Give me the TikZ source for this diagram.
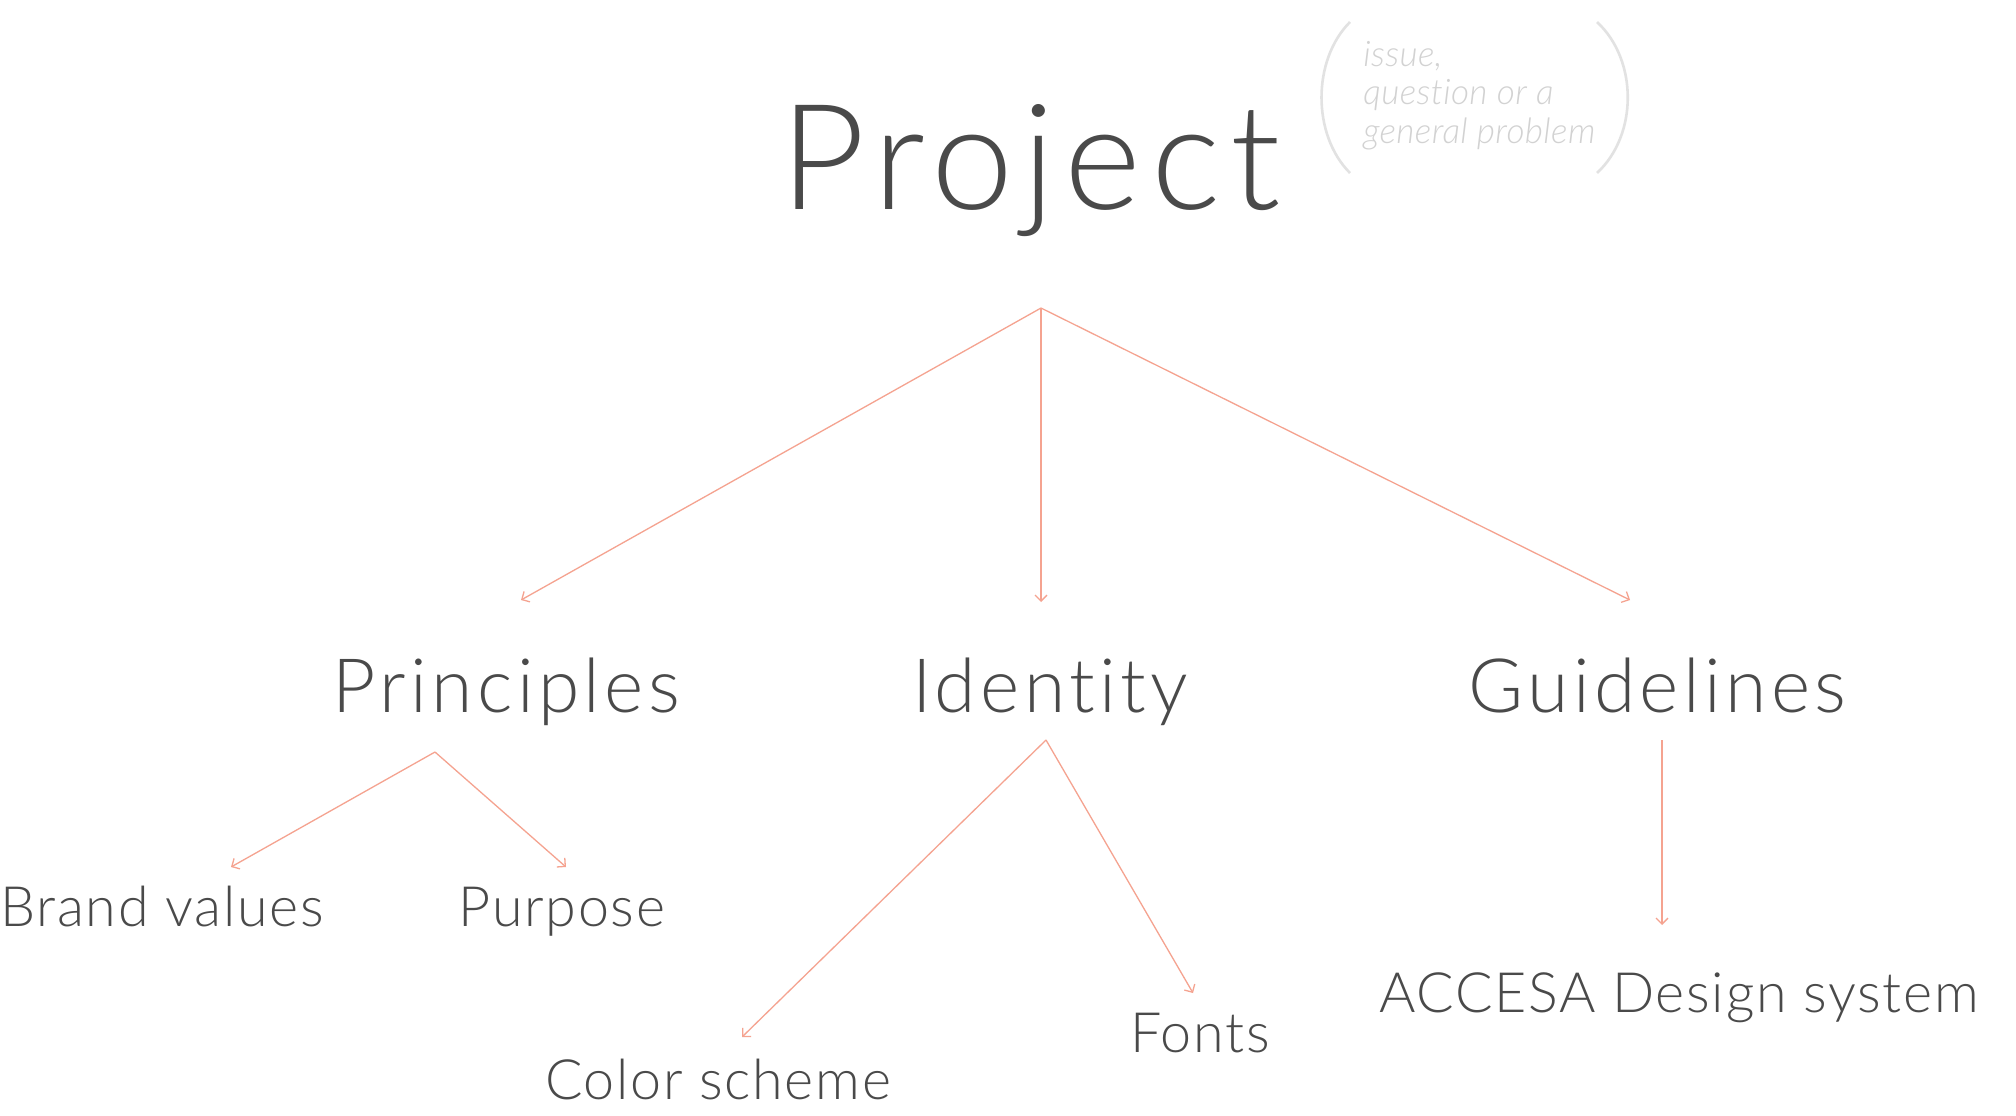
\documentclass[tikz,border=0pt]{standalone}
\usepackage{fontspec}
\setmainfont{Lato}[UprightFont=* Light, ItalicFont=* Light Italic, Ligatures=CommonOff]
\usetikzlibrary{arrows.meta}
\definecolor{txt}{HTML}{4A4A4A}
\definecolor{arr}{HTML}{F5A390}
\definecolor{notec}{HTML}{D2D2D2}
\definecolor{parenc}{HTML}{E2E2E2}
\begin{document}
\begin{tikzpicture}[x=0.5pt,y=-0.5pt,
  lbl/.style={text=txt, inner sep=0pt, anchor=base},
  bigtxt/.style={lbl, font=\fontsize{73.6}{80}\selectfont\addfontfeature{LetterSpace=6.4}},
  midtxt/.style={lbl, font=\fontsize{37.5}{42}\selectfont\addfontfeature{LetterSpace=5.8}},
  smalltxt/.style={lbl, font=\fontsize{27.8}{32}\selectfont\addfontfeature{LetterSpace=3}},
  notetxt/.style={text=notec, inner sep=0pt, anchor=base west, font=\fontsize{17.6}{21}\selectfont\itshape\addfontfeature{LetterSpace=1}},
  link/.style={draw=arr, line width=0.65pt, -{Straight Barb[length=3pt,width=6pt]}},
  parenline/.style={draw=parenc, line width=1.3pt}
]
\fill[white] (0,0) rectangle (2016,1115);
\useasboundingbox (0,0) rectangle (2016,1115);

% titles
\node[bigtxt] (project) at (1030.5,209) {Project};
\node[midtxt] (principles) at (506.5,712) {Principles};
\node[midtxt] (identity) at (1050,712) {Identity};
\node[midtxt] (guidelines) at (1657.5,712) {Guidelines};
\node[smalltxt] (brand) at (162,926) {Brand values};
\node[smalltxt] (purpose) at (562,926) {Purpose};
\node[smalltxt] (color) at (718,1099) {Color scheme};
\node[smalltxt] (fonts) at (1200,1052) {Fonts};
\node[smalltxt] (accesa) at (1679,1012) {ACCESA Design system};

% note
\node[notetxt] (note1) at (1363,66) {issue,};
\node[notetxt] (note2) at (1363,104) {question or a};
\node[notetxt] (note3) at (1363,143) {general problem};
\draw[parenline] (1350,22) .. controls (1312,60) and (1312,135) .. (1350,173);
\draw[parenline] (1597,22) .. controls (1638,60) and (1638,135) .. (1597,173);

% connector points
\coordinate (root) at (1041,308);
\coordinate (tPrin) at (521,600);
\coordinate (tIden) at (1041,602);
\coordinate (tGuid) at (1630,600);
\coordinate (aPrin) at (435,752);
\coordinate (tBrand) at (231,867);
\coordinate (tPurp) at (566,867);
\coordinate (aIden) at (1046,740);
\coordinate (tColor) at (742,1037);
\coordinate (tFonts) at (1193,993);
\coordinate (aGuid) at (1662,740);
\coordinate (tAcc) at (1662,925);

\draw[link] (root) -- (tPrin);
\draw[link] (root) -- (tIden);
\draw[link] (root) -- (tGuid);
\draw[link] (aPrin) -- (tBrand);
\draw[link] (aPrin) -- (tPurp);
\draw[link] (aIden) -- (tColor);
\draw[link] (aIden) -- (tFonts);
\draw[link] (aGuid) -- (tAcc);
\end{tikzpicture}
\end{document}
